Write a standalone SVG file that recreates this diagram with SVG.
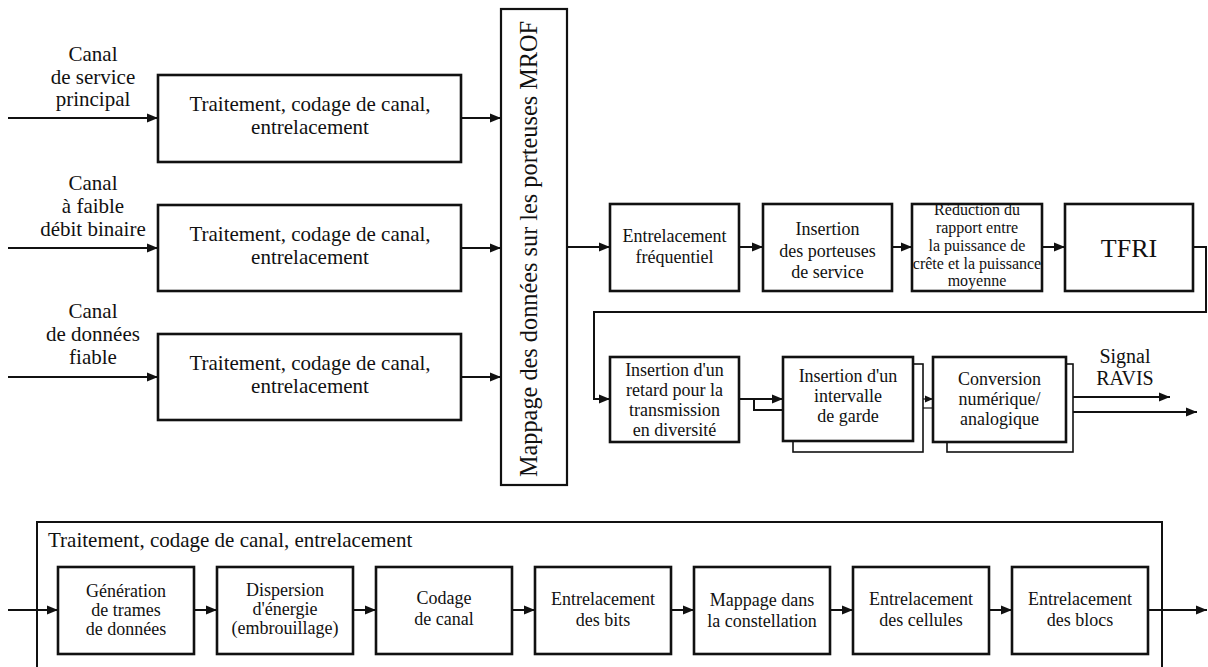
<svg xmlns="http://www.w3.org/2000/svg" width="1208" height="667" viewBox="0 0 1208 667" font-family="'Liberation Serif', 'DejaVu Serif', serif">
<defs>
<marker id="ah" markerUnits="userSpaceOnUse" markerWidth="11" markerHeight="10" refX="11" refY="5" orient="auto"><path d="M0,0.5 L11,5 L0,9.5 z" fill="#111"/></marker>
<marker id="ahs" markerUnits="userSpaceOnUse" markerWidth="8" markerHeight="8" refX="8" refY="4" orient="auto"><path d="M0,0.5 L8,4 L0,7.5 z" fill="#111"/></marker>
<style>
.box{fill:#fff;stroke:#111;stroke-width:2.6}
.shadow{fill:#fff;stroke:#111;stroke-width:1.6}
.outer{fill:none;stroke:#111;stroke-width:2}
.ln{fill:none;stroke:#111;stroke-width:2}
.thin{fill:none;stroke:#111;stroke-width:1.2}
text{fill:#111;text-anchor:middle}
.f21{font-size:21px}
.f18{font-size:18px}
.f16{font-size:16px}
</style>
</defs>
<rect width="1208" height="667" fill="#fff"/>

<g id="connectors">
<line class="ln" x1="8" y1="118" x2="158" y2="118" marker-end="url(#ah)"/>
<line class="ln" x1="8" y1="248" x2="158" y2="248" marker-end="url(#ah)"/>
<line class="ln" x1="8" y1="377" x2="158" y2="377" marker-end="url(#ah)"/>
<line class="ln" x1="461" y1="118" x2="501" y2="118" marker-end="url(#ah)"/>
<line class="ln" x1="461" y1="248" x2="501" y2="248" marker-end="url(#ah)"/>
<line class="ln" x1="461" y1="377" x2="501" y2="377" marker-end="url(#ah)"/>
<line class="ln" x1="567" y1="247" x2="610" y2="247" marker-end="url(#ah)"/>
<line class="ln" x1="739" y1="247" x2="763" y2="247" marker-end="url(#ah)"/>
<line class="ln" x1="892" y1="247" x2="912" y2="247" marker-end="url(#ah)"/>
<line class="ln" x1="1042" y1="247" x2="1065" y2="247" marker-end="url(#ah)"/>
<path class="ln" d="M1193,247 H1206 V312 H594 V399 H610" marker-end="url(#ah)"/>
<line class="ln" x1="739" y1="399" x2="783" y2="399" marker-end="url(#ah)"/>
<path class="ln" d="M754,399 V410 H793" marker-end="url(#ahs)"/>
<line class="thin" x1="913" y1="399" x2="933" y2="399" marker-end="url(#ahs)"/>
<line class="thin" x1="923" y1="408" x2="947" y2="408" marker-end="url(#ahs)"/>
<line class="ln" x1="1066" y1="397" x2="1170" y2="397" marker-end="url(#ah)"/>
<line class="ln" x1="1073" y1="412" x2="1197" y2="412" marker-end="url(#ah)"/>
<line class="ln" x1="8" y1="610" x2="58" y2="610" marker-end="url(#ah)"/>
<line class="ln" x1="194" y1="610" x2="217" y2="610" marker-end="url(#ah)"/>
<line class="ln" x1="353" y1="610" x2="376" y2="610" marker-end="url(#ah)"/>
<line class="ln" x1="512" y1="610" x2="535" y2="610" marker-end="url(#ah)"/>
<line class="ln" x1="671" y1="610" x2="694" y2="610" marker-end="url(#ah)"/>
<line class="ln" x1="830" y1="610" x2="853" y2="610" marker-end="url(#ah)"/>
<line class="ln" x1="989" y1="610" x2="1012" y2="610" marker-end="url(#ah)"/>
<line class="ln" x1="1148" y1="610" x2="1207" y2="610" marker-end="url(#ah)"/>
</g>

<g id="label-principal">
<text class="f21" x="93" y="61">Canal</text>
<text class="f21" x="93" y="84">de service</text>
<text class="f21" x="93" y="106">principal</text>
</g>
<g id="label-faible">
<text class="f21" x="93" y="190">Canal</text>
<text class="f21" x="93" y="213">à faible</text>
<text class="f21" x="93" y="236">débit binaire</text>
</g>
<g id="label-fiable">
<text class="f21" x="93" y="318">Canal</text>
<text class="f21" x="93" y="341">de données</text>
<text class="f21" x="93" y="364">fiable</text>
</g>

<g id="proc1">
<rect class="box" x="158" y="75" width="303" height="87"/>
<text class="f21" x="310" y="111">Traitement, codage de canal,</text>
<text class="f21" x="310" y="134">entrelacement</text>
</g>
<g id="proc2">
<rect class="box" x="158" y="205" width="303" height="86"/>
<text class="f21" x="310" y="241">Traitement, codage de canal,</text>
<text class="f21" x="310" y="264">entrelacement</text>
</g>
<g id="proc3">
<rect class="box" x="158" y="334" width="303" height="86"/>
<text class="f21" x="310" y="370">Traitement, codage de canal,</text>
<text class="f21" x="310" y="393">entrelacement</text>
</g>

<g id="mapping">
<rect class="box" x="501" y="9" width="66" height="476" style="stroke-width:2.2"/>
<text x="537" y="249" transform="rotate(-90 537 249)" style="font-size:24.3px">Mappage des données sur les porteuses MROF</text>
</g>

<g id="freq-interleave">
<rect class="box" x="610" y="204" width="129" height="87"/>
<text class="f18" x="674.5" y="242">Entrelacement</text>
<text class="f18" x="674.5" y="263">fréquentiel</text>
</g>
<g id="service-carriers">
<rect class="box" x="763" y="204" width="129" height="87"/>
<text class="f18" x="827.5" y="235">Insertion</text>
<text class="f18" x="827.5" y="257">des porteuses</text>
<text class="f18" x="827.5" y="278">de service</text>
</g>
<g id="papr">
<rect class="box" x="912" y="204" width="130" height="87"/>
<text class="f16" x="977" y="215">Réduction du</text>
<text class="f16" x="977" y="233">rapport entre</text>
<text class="f16" x="977" y="251">la puissance de</text>
<text class="f16" x="977" y="269">crête et la puissance</text>
<text class="f16" x="977" y="286">moyenne</text>
</g>
<g id="tfri">
<rect class="box" x="1065" y="204" width="128" height="87"/>
<text x="1129" y="257" style="font-size:26px">TFRI</text>
</g>

<g id="diversity-delay">
<rect class="box" x="610" y="357" width="129" height="85"/>
<text class="f18" x="674.5" y="376">Insertion d'un</text>
<text class="f18" x="674.5" y="396">retard pour la</text>
<text class="f18" x="674.5" y="416">transmission</text>
<text class="f18" x="674.5" y="436">en diversité</text>
</g>
<g id="guard-interval">
<rect class="shadow" x="793" y="364" width="130" height="88"/>
<rect class="box" x="783" y="357" width="130" height="84"/>
<text class="f18" x="848" y="382">Insertion d'un</text>
<text class="f18" x="848" y="402">intervalle</text>
<text class="f18" x="848" y="422">de garde</text>
</g>
<g id="dac">
<rect class="shadow" x="947" y="364" width="126" height="88"/>
<rect class="box" x="933" y="357" width="133" height="85"/>
<text class="f18" x="999.5" y="385">Conversion</text>
<text class="f18" x="999.5" y="405">numérique/</text>
<text class="f18" x="999.5" y="425">analogique</text>
</g>
<g id="signal-label">
<text x="1125" y="363" style="font-size:20px">Signal</text>
<text x="1125" y="385" style="font-size:20px">RAVIS</text>
</g>

<g id="detail-frame">
<rect class="outer" x="37" y="522" width="1125" height="150"/>
<text class="f21" x="48" y="547" style="text-anchor:start">Traitement, codage de canal, entrelacement</text>
</g>
<g id="frame-gen">
<rect class="box" x="58" y="567" width="136" height="87"/>
<text class="f18" x="126" y="597">Génération</text>
<text class="f18" x="126" y="616">de trames</text>
<text class="f18" x="126" y="635">de données</text>
</g>
<g id="energy-disp">
<rect class="box" x="217" y="567" width="136" height="87"/>
<text class="f18" x="285" y="596">Dispersion</text>
<text class="f18" x="285" y="615">d'énergie</text>
<text class="f18" x="285" y="634">(embrouillage)</text>
</g>
<g id="channel-coding">
<rect class="box" x="376" y="567" width="136" height="87"/>
<text class="f18" x="444" y="604">Codage</text>
<text class="f18" x="444" y="625">de canal</text>
</g>
<g id="bit-interleave">
<rect class="box" x="535" y="567" width="136" height="87"/>
<text class="f18" x="603" y="605">Entrelacement</text>
<text class="f18" x="603" y="626">des bits</text>
</g>
<g id="constellation">
<rect class="box" x="694" y="567" width="136" height="87"/>
<text class="f18" x="762" y="606">Mappage dans</text>
<text class="f18" x="762" y="627">la constellation</text>
</g>
<g id="cell-interleave">
<rect class="box" x="853" y="567" width="136" height="87"/>
<text class="f18" x="921" y="605">Entrelacement</text>
<text class="f18" x="921" y="626">des cellules</text>
</g>
<g id="block-interleave">
<rect class="box" x="1012" y="567" width="136" height="87"/>
<text class="f18" x="1080" y="605">Entrelacement</text>
<text class="f18" x="1080" y="626">des blocs</text>
</g>
</svg>
